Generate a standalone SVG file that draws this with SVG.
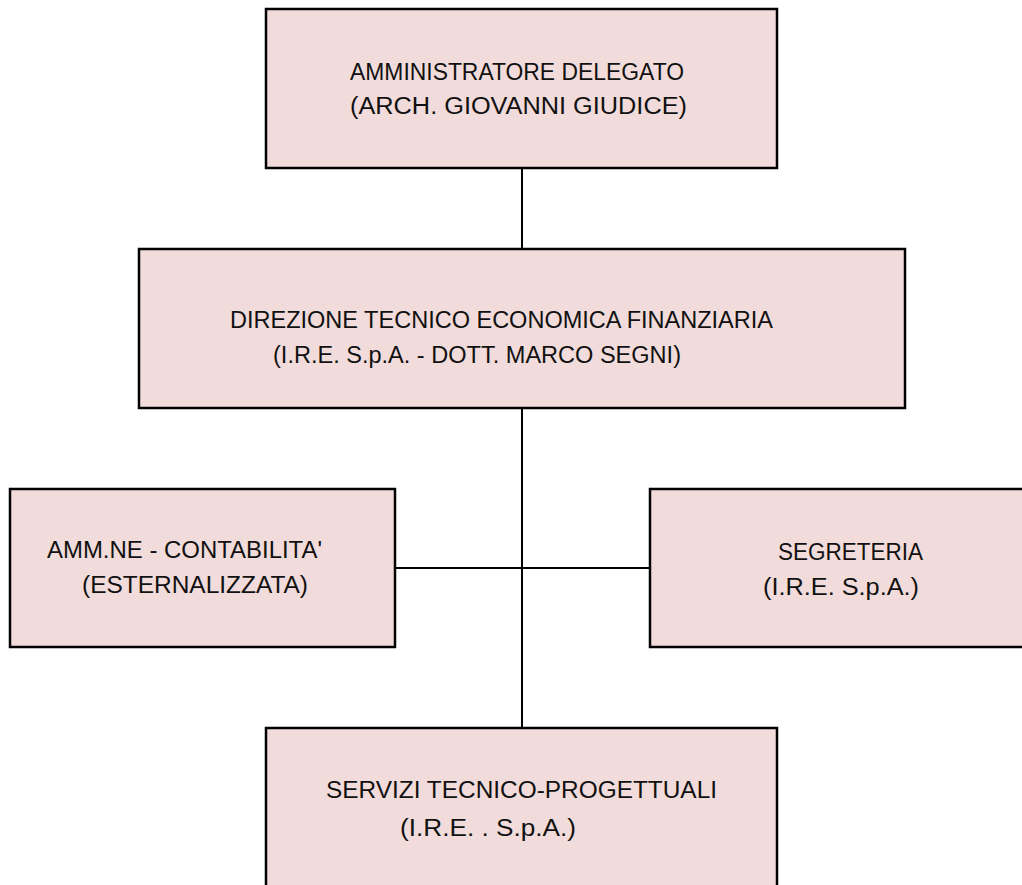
<svg xmlns="http://www.w3.org/2000/svg" width="1022" height="885" viewBox="0 0 1022 885">
<style>
.box{fill:#f2dcdb;stroke:#000;stroke-width:2.5}
.t{font-family:"Liberation Sans",Arial,sans-serif;font-size:23.5px;fill:#111}
.c{stroke:#000;stroke-width:2;fill:none}
</style>
<rect width="1022" height="885" fill="#fff"/>
<g id="connectors">
<line class="c" x1="522" y1="168" x2="522" y2="249"/>
<line class="c" x1="522" y1="408" x2="522" y2="728"/>
<line class="c" x1="395" y1="568" x2="650" y2="568"/>
</g>
<g id="n1">
<rect class="box" x="266" y="9" width="511" height="159"/>
<text class="t" x="350" y="80" textLength="334" lengthAdjust="spacingAndGlyphs">AMMINISTRATORE DELEGATO</text>
<text class="t" x="350" y="114" textLength="337" lengthAdjust="spacingAndGlyphs">(ARCH. GIOVANNI GIUDICE)</text>
</g>
<g id="n2">
<rect class="box" x="139" y="249" width="766" height="159"/>
<text class="t" x="230" y="328" textLength="543" lengthAdjust="spacingAndGlyphs">DIREZIONE TECNICO ECONOMICA FINANZIARIA</text>
<text class="t" x="273" y="363" textLength="408" lengthAdjust="spacingAndGlyphs">(I.R.E. S.p.A. - DOTT. MARCO SEGNI)</text>
</g>
<g id="n3">
<rect class="box" x="10" y="489" width="385" height="158"/>
<text class="t" x="47" y="558" textLength="275" lengthAdjust="spacingAndGlyphs">AMM.NE - CONTABILITA'</text>
<text class="t" x="82" y="593" textLength="226" lengthAdjust="spacingAndGlyphs">(ESTERNALIZZATA)</text>
</g>
<g id="n4">
<rect class="box" x="650" y="489" width="380" height="158"/>
<text class="t" x="778" y="560" textLength="145" lengthAdjust="spacingAndGlyphs">SEGRETERIA</text>
<text class="t" x="763" y="595" textLength="156" lengthAdjust="spacingAndGlyphs">(I.R.E. S.p.A.)</text>
</g>
<g id="n5">
<rect class="box" x="266" y="728" width="511" height="170"/>
<text class="t" x="326" y="798" textLength="391" lengthAdjust="spacingAndGlyphs">SERVIZI TECNICO-PROGETTUALI</text>
<text class="t" x="400" y="836" textLength="176" lengthAdjust="spacingAndGlyphs">(I.R.E. .  S.p.A.)</text>
</g>
</svg>
